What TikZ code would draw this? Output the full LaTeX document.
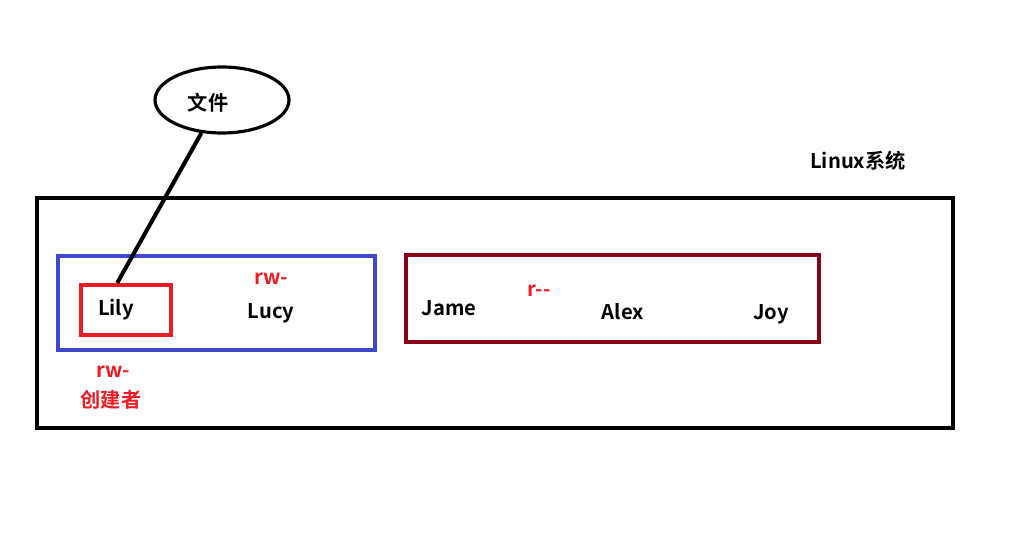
\documentclass[tikz,border=0pt]{standalone}
\usepackage{fontspec}
\setmainfont{Noto Sans CJK SC}[BoldFont={* Bold}]
\usetikzlibrary{shapes.geometric}
\definecolor{pred}{HTML}{ED1C24}
\definecolor{pblue}{HTML}{3F48CC}
\definecolor{pdark}{HTML}{880015}
\tikzset{
  user/.style={font=\fontsize{11.5pt}{13pt}\selectfont\bfseries, inner sep=0pt},
  perm/.style={font=\fontsize{11.5pt}{13pt}\selectfont\bfseries, text=pred, inner sep=0pt}
}
\begin{document}
\begin{tikzpicture}[x=0.02cm, y=-0.02cm]
\useasboundingbox (0,0) rectangle (1018,540);
\draw[line width=2.3pt] (37,198) rectangle (953,428);
\draw[line width=2.3pt, pblue] (58,256) rectangle (375,350);
\draw[line width=2.3pt, pdark] (406,255) rectangle (819,342);
\node[ellipse, draw, line width=1.8pt, minimum width=2.68cm, minimum height=1.32cm] (file) at (222,100) {};
\node[user] (filetext) at (208,103) {文件};
\node[draw=pred, line width=2.3pt, minimum width=1.8cm, minimum height=1.0cm] (lilybox) at (126,310) {};
\node[user] (lily) at (116,310) {Lily};
\node[user] (lucy) at (271,313) {Lucy};
\node[perm] (lucyperm) at (271,279) {rw-};
\node[perm] (lilyperm) at (113,372) {rw-};
\node[perm] (creator) at (111,400) {创建者};
\node[user] (jame) at (449,308) {Jame};
\node[perm] (otherperm) at (539,291) {r{-}{-}};
\node[user] (alex) at (623,312) {Alex};
\node[user] (joy) at (771,314) {Joy};
\node[user] (linux) at (858,161) {Linux系统};
\draw[line width=2.3pt] (file.238) -- (lilybox.108);
\end{tikzpicture}
\end{document}
